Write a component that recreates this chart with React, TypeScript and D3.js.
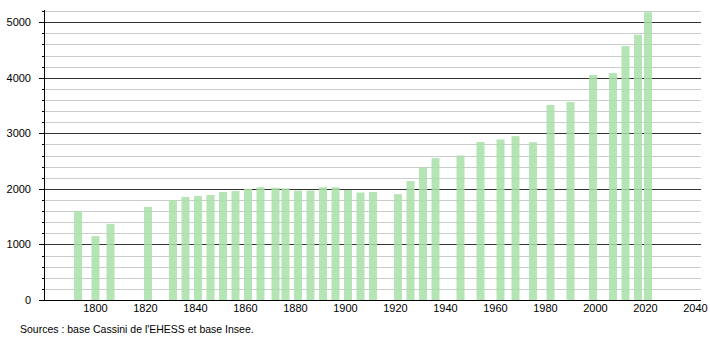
import React from "react";
import * as d3 from "d3";

const years = [
  1793, 1800, 1806, 1821, 1831, 1836, 1841, 1846, 1851, 1856, 1861, 1866, 1872, 1876,
  1881, 1886, 1891, 1896, 1901, 1906, 1911, 1921, 1926, 1931, 1936, 1946, 1954, 1962,
  1968, 1975, 1982, 1990, 1999, 2007, 2012, 2017, 2021,
];
const population = [
  1600, 1150, 1370, 1675, 1800, 1855, 1870, 1890, 1945, 1960, 2000, 2030, 2020, 2010,
  1970, 1970, 2030, 2030, 1980, 1935, 1945, 1905, 2140, 2385, 2555, 2600, 2845, 2890,
  2950, 2840, 3510, 3565, 4050, 4085, 4570, 4775, 5180,
];
const xTickYears = [1800, 1820, 1840, 1860, 1880, 1900, 1920, 1940, 1960, 1980, 2000, 2020, 2040];
const yMajorTicks = [0, 1000, 2000, 3000, 4000, 5000];
const sourceText = "Sources : base Cassini de l'EHESS et base Insee.";

const W = 710;
const H = 340;
const left = 44;
const right = 701;
const bottom = 300;
const top = 10;

export default function App() {
  const x = d3.scaleLinear().domain([1800, 2040]).range([95.5, 695.5]);
  const y = d3.scaleLinear().domain([0, 5220]).range([bottom, top]);
  const minor = d3.range(200, 5201, 200).filter((v) => v % 1000 !== 0);
  const barW = 8;
  const font = "'Liberation Sans', Arial, sans-serif";

  return (
    <svg
      width={W}
      height={H}
      style={{ position: "absolute", left: 0, top: 0, background: "#fff" }}
      fontFamily={font}
    >
      {/* minor gridlines */}
      {minor.map((v) => (
        <line key={"g" + v} x1={left} x2={right} y1={Math.round(y(v)) + 0.5} y2={Math.round(y(v)) + 0.5} stroke="#cccccc" strokeWidth={1} />
      ))}
      {/* major gridlines */}
      {yMajorTicks.filter((v) => v > 0).map((v) => (
        <line key={"G" + v} x1={left} x2={right} y1={Math.round(y(v)) + 0.5} y2={Math.round(y(v)) + 0.5} stroke="#333333" strokeWidth={1} />
      ))}
      {/* bars */}
      {years.map((yr, i) => (
        <rect
          key={yr}
          x={x(yr) - barW / 2}
          y={y(population[i])}
          width={barW}
          height={bottom - y(population[i])}
          fill="#a8e0a8"
          fillOpacity={0.85}
        />
      ))}
      {/* y axis */}
      <line x1={left + 0.5} x2={left + 0.5} y1={top} y2={bottom} stroke="#000" strokeWidth={1} />
      {minor.map((v) => (
        <line key={"mt" + v} x1={left - 2} x2={left} y1={Math.round(y(v)) + 0.5} y2={Math.round(y(v)) + 0.5} stroke="#000" />
      ))}
      {yMajorTicks.map((v) => (
        <g key={"yt" + v}>
          <line x1={left - 5} x2={left} y1={Math.round(y(v)) + 0.5} y2={Math.round(y(v)) + 0.5} stroke="#000" />
          <text x={31} y={y(v) + 4} textAnchor="end" fontSize={11} fill="#000">
            {v}
          </text>
        </g>
      ))}
      {/* x axis */}
      <line x1={left} x2={right} y1={bottom + 0.5} y2={bottom + 0.5} stroke="#000" strokeWidth={1} />
      {xTickYears.map((t) => (
        <text key={"xt" + t} x={x(t)} y={312} textAnchor="middle" fontSize={11} fill="#000">
          {t}
        </text>
      ))}
      <text x={20} y={333} fontSize={10.5} fill="#000">
        {sourceText}
      </text>
    </svg>
  );
}
